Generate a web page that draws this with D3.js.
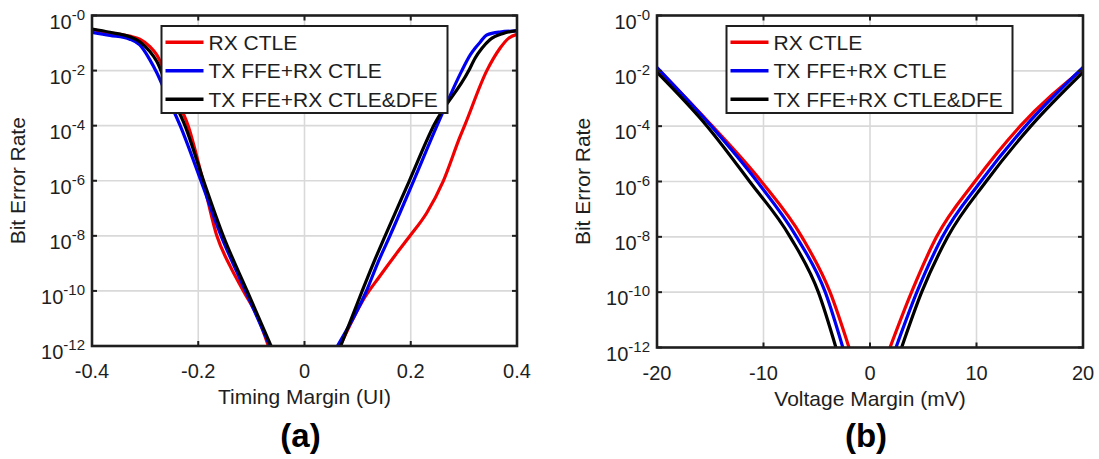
<!DOCTYPE html>
<html>
<head>
<meta charset="utf-8">
<script src="https://cdn.jsdelivr.net/npm/d3@7"></script>
<style>
  body { margin: 0; background: #fff; }
  svg text { font-family: "Liberation Sans", Arial, sans-serif; fill: #1e1e1e; }
</style>
</head>
<body>
<svg id="chart" width="1099" height="459"></svg>
<script>
// legend entries + colours
const seriesNames = ["RX CTLE", "TX FFE+RX CTLE", "TX FFE+RX CTLE&DFE"];
const seriesColors = ["#f00000", "#0000f0", "#000000"];

// tick values
const yTickExps = [0, -2, -4, -6, -8, -10, -12];
const timingTicks = [-0.4, -0.2, 0, 0.2, 0.4];
const voltageTicks = [-20, -10, 0, 10, 20];

// (a) timing margin (UI) -> log10(BER)
const timingRxLeft = [[-0.4,-0.5],[-0.366,-0.63],[-0.329,-0.75],[-0.31,-0.86],[-0.291,-1.13],[-0.278,-1.43],
  [-0.25,-2.7],[-0.219,-4],[-0.191,-6],[-0.165,-8],[-0.14,-9.1],[-0.115,-10],[-0.087,-11],[-0.068,-12]];
const timingRxRight = [[0.067,-12],[0.111,-10.31],[0.142,-9.46],[0.174,-8.62],[0.199,-7.99],[0.23,-7.17],[0.261,-6.02],
  [0.293,-4.39],[0.302,-3.97],[0.343,-2.01],[0.356,-1.55],[0.368,-1.19],[0.384,-0.83],[0.4,-0.68]];

const timingFfeLeft = [[-0.4,-0.61],[-0.366,-0.72],[-0.329,-0.86],[-0.31,-1.07],[-0.291,-1.61],[-0.278,-2.08],
  [-0.256,-3.05],[-0.234,-4],[-0.195,-6],[-0.157,-8],[-0.111,-10],[-0.065,-12]];
const timingFfeRight = [[0.062,-12],[0.116,-10.03],[0.138,-8.98],[0.161,-7.99],[0.205,-6.02],[0.25,-3.97],
  [0.296,-2.01],[0.312,-1.43],[0.321,-1.19],[0.331,-0.96],[0.343,-0.71],[0.368,-0.6],[0.4,-0.56]];

const timingDfeLeft = [[-0.4,-0.49],[-0.366,-0.61],[-0.329,-0.77],[-0.31,-0.95],[-0.291,-1.31],[-0.278,-1.67],
  [-0.255,-2.75],[-0.225,-4],[-0.19,-6],[-0.153,-8],[-0.108,-10],[-0.063,-12]];
const timingDfeRight = [[0.068,-12],[0.108,-10.03],[0.13,-8.98],[0.152,-7.99],[0.197,-6.02],[0.244,-3.97],
  [0.309,-2.01],[0.321,-1.55],[0.334,-1.19],[0.349,-0.88],[0.374,-0.65],[0.4,-0.55]];

// (b) voltage margin (mV) -> log10(BER)
const voltRxLeft = [[-20,-1.9],[-14.8,-4],[-10.2,-6],[-6.4,-8],[-3.75,-10],[-1.97,-12]];
const voltRxRight = [[1.88,-12],[3.9,-10],[6.25,-8],[9.85,-6],[14.1,-4],[20,-1.92]];
const voltFfeLeft = [[-20,-1.88],[-14.9,-4],[-10.6,-6],[-6.9,-8],[-4.2,-10],[-2.55,-12]];
const voltFfeRight = [[2.44,-12],[4.4,-10],[6.8,-8],[10.4,-6],[14.6,-4],[20,-1.88]];
const voltDfeLeft = [[-20,-2.05],[-15.3,-4],[-11.3,-6],[-7.5,-8],[-4.85,-10],[-3.2,-12]];
const voltDfeRight = [[2.97,-12],[4.85,-10],[7.3,-8],[10.9,-6],[15.1,-4],[20,-2.05]];

const panels = [
  { left: 92, right: 517, top: 15.5, bottom: 346, domain: [-0.4, 0.4], ticks: timingTicks,
    tickFmt: d => d === 0 ? "0" : d.toFixed(1), xTitle: "Timing Margin (UI)", tag: "(a)",
    series: [[timingRxLeft, timingRxRight], [timingFfeLeft, timingFfeRight], [timingDfeLeft, timingDfeRight]] },
  { left: 657, right: 1083, top: 15.5, bottom: 347.5, domain: [-20, 20], ticks: voltageTicks,
    tickFmt: d => String(d), xTitle: "Voltage Margin (mV)", tag: "(b)",
    series: [[voltRxLeft, voltRxRight], [voltFfeLeft, voltFfeRight], [voltDfeLeft, voltDfeRight]] }
];

const svg = d3.select("#chart");
const tickLen = 5;

panels.forEach((p, pi) => {
  const x = d3.scaleLinear().domain(p.domain).range([p.left, p.right]);
  const y = d3.scaleLog().domain([1e-12, 1]).range([p.bottom, p.top]);
  const g = svg.append("g");

  // grid
  g.selectAll(".vgrid").data(p.ticks.slice(1, -1)).enter().append("line")
    .attr("x1", d => x(d)).attr("x2", d => x(d))
    .attr("y1", p.top).attr("y2", p.bottom)
    .attr("stroke", "#d9d9d9").attr("stroke-width", 1.6);
  g.selectAll(".hgrid").data(yTickExps.slice(1, -1)).enter().append("line")
    .attr("x1", p.left).attr("x2", p.right)
    .attr("y1", d => y(Math.pow(10, d))).attr("y2", d => y(Math.pow(10, d)))
    .attr("stroke", "#d9d9d9").attr("stroke-width", 1.6);

  // curves
  const clipId = "clip" + pi;
  svg.append("clipPath").attr("id", clipId).append("rect")
    .attr("x", p.left).attr("y", p.top).attr("width", p.right - p.left).attr("height", p.bottom - p.top);
  const line = d3.line()
    .x(d => x(d[0]))
    .y(d => y(Math.pow(10, d[1])))
    .curve(d3.curveMonotoneX);
  const cg = g.append("g").attr("clip-path", `url(#${clipId})`);
  p.series.forEach((branches, si) => {
    branches.forEach(b => {
      cg.append("path").attr("d", line(b))
        .attr("fill", "none").attr("stroke", seriesColors[si])
        .attr("stroke-width", 3.2).attr("stroke-linejoin", "round");
    });
  });

  // inward ticks on all four sides
  p.ticks.forEach(t => {
    g.append("line").attr("x1", x(t)).attr("x2", x(t)).attr("y1", p.bottom).attr("y2", p.bottom - tickLen)
      .attr("stroke", "#1e1e1e").attr("stroke-width", 2);
    g.append("line").attr("x1", x(t)).attr("x2", x(t)).attr("y1", p.top).attr("y2", p.top + tickLen)
      .attr("stroke", "#1e1e1e").attr("stroke-width", 2);
  });
  yTickExps.forEach(e => {
    const yy = y(Math.pow(10, e));
    g.append("line").attr("x1", p.left).attr("x2", p.left + tickLen).attr("y1", yy).attr("y2", yy)
      .attr("stroke", "#1e1e1e").attr("stroke-width", 2);
    g.append("line").attr("x1", p.right).attr("x2", p.right - tickLen).attr("y1", yy).attr("y2", yy)
      .attr("stroke", "#1e1e1e").attr("stroke-width", 2);
  });

  // box
  g.append("rect").attr("x", p.left).attr("y", p.top)
    .attr("width", p.right - p.left).attr("height", p.bottom - p.top)
    .attr("fill", "none").attr("stroke", "#1e1e1e").attr("stroke-width", 2.6);

  // x tick labels
  g.selectAll(".xt").data(p.ticks).enter().append("text")
    .attr("x", d => x(d)).attr("y", p.bottom + 32)
    .attr("text-anchor", "middle").attr("font-size", 20)
    .text(d => p.tickFmt(d));

  // y tick labels 10^-n
  yTickExps.forEach(e => {
    const t = g.append("text")
      .attr("x", p.left - 7).attr("y", y(Math.pow(10, e)) + 13)
      .attr("text-anchor", "end").attr("font-size", 20);
    t.append("tspan").text("10");
    t.append("tspan").attr("dy", -9).attr("font-size", 15).text("-" + Math.abs(e));
  });

  // axis titles
  g.append("text")
    .attr("x", (p.left + p.right) / 2).attr("y", p.bottom + 58)
    .attr("text-anchor", "middle").attr("font-size", 21)
    .text(p.xTitle);
  g.append("text")
    .attr("transform", `translate(${p.left - 67},${(p.top + p.bottom) / 2}) rotate(-90)`)
    .attr("text-anchor", "middle").attr("font-size", 21)
    .text("Bit Error Rate");

  // panel tag
  g.append("text")
    .attr("x", (p.left + p.right) / 2 - 4).attr("y", 447)
    .attr("text-anchor", "middle").attr("font-size", 33).attr("font-weight", "bold")
    .style("fill", "#000")
    .text(p.tag);

  // legend
  const lx = p.left + 69.5, ly = 26;
  const lg = g.append("g");
  lg.append("rect").attr("x", lx).attr("y", ly).attr("width", 286).attr("height", 87)
    .attr("fill", "#fff").attr("stroke", "#1e1e1e").attr("stroke-width", 2);
  seriesNames.forEach((name, i) => {
    const yy = ly + 16.3 + i * 28.5;
    lg.append("line").attr("x1", lx + 4).attr("x2", lx + 42).attr("y1", yy).attr("y2", yy)
      .attr("stroke", seriesColors[i]).attr("stroke-width", 3.6);
    lg.append("text").attr("x", lx + 47).attr("y", yy + 7.6)
      .attr("font-size", 21).text(name);
  });
});
</script>
</body>
</html>
